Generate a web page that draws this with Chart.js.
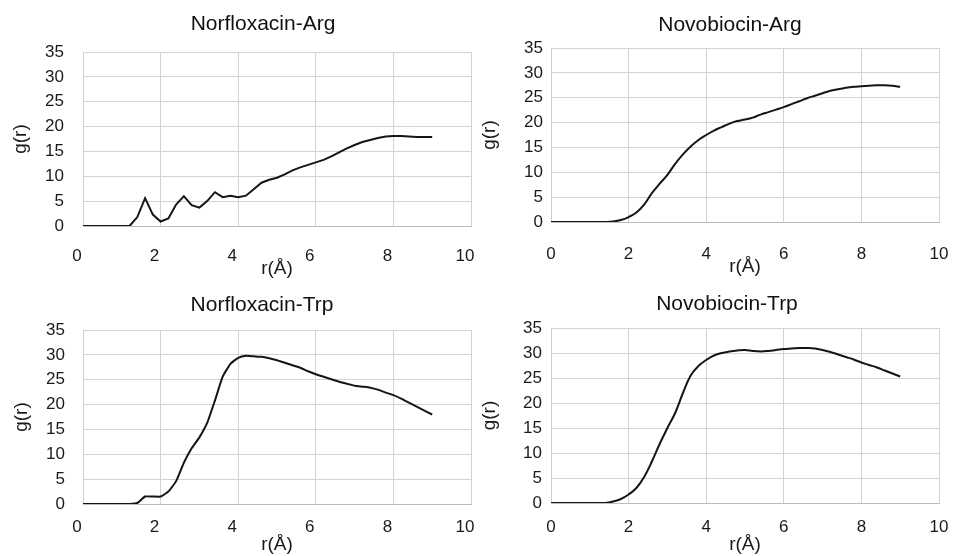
<!DOCTYPE html>
<html>
<head>
<meta charset="utf-8">
<script src="https://cdn.jsdelivr.net/npm/chart.js@4.4.1/dist/chart.umd.min.js"></script>
<style>
  html, body { margin: 0; padding: 0; background: #fff; }
  #wrap { position: relative; width: 955px; height: 556px; }
  #wrap canvas { position: absolute; left: 0; top: 0; }
</style>
</head>
<body>
<div id="wrap">
  <canvas id="c1" width="955" height="556"></canvas>
  <canvas id="c2" width="955" height="556"></canvas>
  <canvas id="c3" width="955" height="556"></canvas>
  <canvas id="c4" width="955" height="556"></canvas>
</div>
<script>
// r (Å) sample points shared by all four curves
const rValues = [0, 0.2, 0.4, 0.6, 0.8, 1.0, 1.2, 1.4, 1.6, 1.8,
    2.0, 2.2, 2.4, 2.6, 2.8, 3.0, 3.2, 3.4, 3.6, 3.8,
    4.0, 4.2, 4.4, 4.6, 4.8, 5.0, 5.2, 5.4, 5.6, 5.8,
    6.0, 6.2, 6.4, 6.6, 6.8, 7.0, 7.2, 7.4, 7.6, 7.8,
    8.0, 8.2, 8.4, 8.6, 8.8, 9.0];

// g(r) per complex
const gNorArg = [0, 0, 0, 0, 0, 0, 0, 1.8, 5.6, 2.3,
    0.9, 1.5, 4.3, 6.0, 4.2, 3.7, 5.0, 6.8, 5.8, 6.1,
    5.8, 6.1, 7.4, 8.7, 9.3, 9.7, 10.4, 11.2, 11.8, 12.3,
    12.8, 13.3, 14.0, 14.8, 15.6, 16.3, 16.9, 17.3, 17.7, 18.0,
    18.1, 18.1, 18.0, 17.9, 17.9, 17.9];
const gNovArg = [0, 0, 0, 0, 0, 0, 0, 0, 0.1, 0.4,
    1.0, 1.9, 3.5, 5.8, 7.7, 9.5, 11.7, 13.6, 15.2, 16.5,
    17.5, 18.4, 19.1, 19.8, 20.3, 20.6, 21.0, 21.6, 22.1, 22.6,
    23.1, 23.7, 24.3, 24.9, 25.4, 25.9, 26.4, 26.7, 27.0, 27.2,
    27.3, 27.4, 27.5, 27.5, 27.4, 27.2];
const gNorTrp = [0, 0, 0, 0, 0, 0, 0, 0.2, 1.5, 1.5,
    1.5, 2.5, 4.6, 8.3, 11.2, 13.4, 16.3, 20.8, 25.6, 28.2,
    29.4, 29.8, 29.7, 29.6, 29.3, 28.9, 28.4, 27.9, 27.4, 26.7,
    26.1, 25.6, 25.1, 24.6, 24.2, 23.8, 23.6, 23.4, 23.0, 22.4,
    21.9, 21.2, 20.4, 19.6, 18.8, 18.0];
const gNovTrp = [0, 0, 0, 0, 0, 0, 0, 0, 0.3, 0.8,
    1.7, 3.0, 5.2, 8.3, 11.8, 15.0, 18.0, 22.0, 25.5, 27.4,
    28.6, 29.5, 30.0, 30.3, 30.5, 30.6, 30.4, 30.3, 30.4, 30.6,
    30.8, 30.9, 31.0, 31.0, 30.9, 30.6, 30.2, 29.7, 29.2, 28.7,
    28.1, 27.6, 27.1, 26.5, 25.9, 25.3];

const xTicks = [0, 2, 4, 6, 8, 10];
const yTicks = [0, 5, 10, 15, 20, 25, 30, 35];

const FONT = '"Liberation Sans", Arial, sans-serif';
const W = 955, H = 556;

// draws the panel heading at a fixed spot
const panelTitle = {
    id: 'panelTitle',
    afterDraw(chart, args, opts) {
        const ctx = chart.ctx;
        ctx.save();
        ctx.font = '21px ' + FONT;
        ctx.fillStyle = '#111';
        ctx.textAlign = 'center';
        ctx.textBaseline = 'alphabetic';
        ctx.fillText(opts.text, opts.x, opts.y);
        ctx.restore();
    },
};

const panels = [
    { id: 'c1', title: 'Norfloxacin-Arg', g: gNorArg, tension: 0,
      area: { l: 83, t: 52, r: 471, b: 226 }, tx: 263, ty: 30,
      yTitleX: 21, yPad: 19, xPad: 20, xTitleY: 269, labelOffset: -6 },
    { id: 'c2', title: 'Novobiocin-Arg', g: gNovArg, tension: 0.4,
      area: { l: 551, t: 48, r: 939, b: 222 }, tx: 730, ty: 30.5,
      yTitleX: 490, yPad: 8, xPad: 22, xTitleY: 267, labelOffset: 0 },
    { id: 'c3', title: 'Norfloxacin-Trp', g: gNorTrp, tension: 0.15,
      area: { l: 83, t: 330, r: 471, b: 504 }, tx: 262, ty: 310.5,
      yTitleX: 22, yPad: 18, xPad: 13, xTitleY: 544.6, labelOffset: -6 },
    { id: 'c4', title: 'Novobiocin-Trp', g: gNovTrp, tension: 0.4,
      area: { l: 551, t: 328, r: 939, b: 503 }, tx: 727, ty: 309.5,
      yTitleX: 490, yPad: 9, xPad: 14, xTitleY: 544.6, labelOffset: 0 },
];

panels.forEach((p) => {
    const titleHalf = 19 * 1.2 / 2;
    const padLeft = p.yTitleX - titleHalf;
    const xH = p.xTitleY + titleHalf - p.area.b;
    const yW = p.area.l - padLeft;

    new Chart(document.getElementById(p.id), {
        type: 'line',
        data: {
            datasets: [{
                data: rValues.map((r, i) => ({ x: r, y: p.g[i] })),
                borderColor: '#151515',
                borderWidth: 2,
                pointRadius: 0,
                tension: p.tension,
                fill: false,
            }],
        },
        options: {
            responsive: false,
            animation: false,
            layout: {
                padding: {
                    left: padLeft,
                    top: p.area.t,
                    right: W - p.area.r,
                    bottom: H - p.area.b - xH,
                },
            },
            plugins: {
                legend: { display: false },
                tooltip: { enabled: false },
                panelTitle: { text: p.title, x: p.tx, y: p.ty },
            },
            scales: {
                x: {
                    type: 'linear',
                    min: 0,
                    max: 10,
                    afterBuildTicks: (s) => { s.ticks = xTicks.map((v) => ({ value: v })); },
                    afterFit: (s) => { s.height = xH; s.paddingLeft = 0; s.paddingRight = 0; },
                    grid: { color: '#d3d3d3', lineWidth: 1, drawTicks: false },
                    border: { color: '#bdbdbd', width: 1 },
                    ticks: {
                        padding: p.xPad,
                        labelOffset: p.labelOffset,
                        color: '#1a1a1a',
                        font: { family: FONT, size: 17 },
                        maxRotation: 0,
                    },
                    title: {
                        display: true,
                        text: 'r(Å)',
                        color: '#1a1a1a',
                        font: { family: FONT, size: 19 },
                        padding: 0,
                    },
                },
                y: {
                    min: 0,
                    max: 35,
                    afterBuildTicks: (s) => { s.ticks = yTicks.map((v) => ({ value: v })); },
                    afterFit: (s) => { s.width = yW; s.paddingTop = 0; s.paddingBottom = 0; },
                    grid: { color: '#d3d3d3', lineWidth: 1, drawTicks: false },
                    border: { color: '#cfcfcf', width: 1 },
                    ticks: {
                        padding: p.yPad,
                        color: '#1a1a1a',
                        font: { family: FONT, size: 17 },
                    },
                    title: {
                        display: true,
                        text: 'g(r)',
                        color: '#1a1a1a',
                        font: { family: FONT, size: 19 },
                        padding: 0,
                    },
                },
            },
        },
        plugins: [panelTitle],
    });
});
</script>
</body>
</html>
